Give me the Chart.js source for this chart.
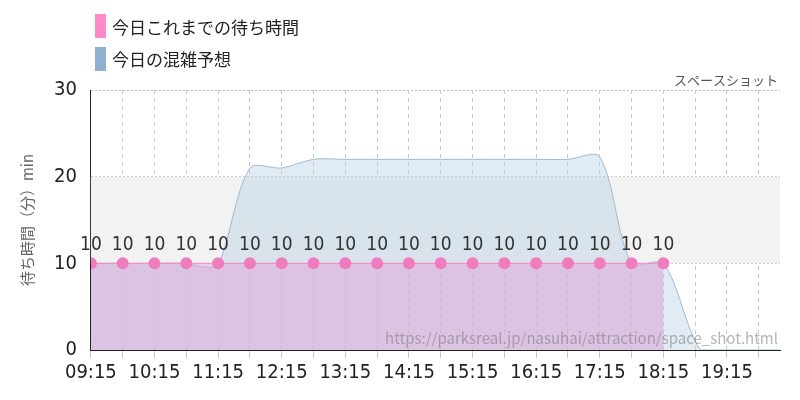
<!DOCTYPE html>
<html><head><meta charset="utf-8">
<script src="https://cdn.jsdelivr.net/npm/chart.js@4"></script>
<style>body{margin:0;background:#fff}#w{width:800px;height:400px;position:relative}</style>
</head><body><div id="w"><canvas id="c"></canvas></div>
<script>
// 9:15 起点の分
var waitTimes = ['09:15','09:45','10:15','10:45','11:15','11:45','12:15','12:45','13:15','13:45','14:15','14:45','15:15','15:45','16:15','16:45','17:15','17:45','18:15'];
var waitValues = [10,10,10,10,10,10,10,10,10,10,10,10,10,10,10,10,10,10,10];
var forecastTimes = ['09:15','09:45','10:15','10:45','11:00','11:15','11:45','12:15','12:45','13:15','13:45','14:15','14:45','15:15','15:45','16:15','16:45','17:15','17:45','18:15','18:50','19:15','19:45','20:05'];
var forecastValues = [10,10,10,10,9.6,9.8,21,21,22,22,22,22,22,22,22,22,22,22.3,10,10,0,0,0,0];
var tickLabels = ['09:15','10:15','11:15','12:15','13:15','14:15','15:15','16:15','17:15','18:15','19:15'];

function toMin(t){ var p=t.split(':'); return (+p[0])*60+(+p[1]); }
function pts(ts, vs){ return ts.map(function(t,i){ return {x:toMin(t), y:vs[i]}; }); }
var font = '"DejaVu Sans Condensed","Liberation Sans Narrow",sans-serif';

var extras = {
  id:'extras',
  beforeDatasetsDraw:function(ch){
    var c=ch.ctx, a=ch.chartArea, y=ch.scales.y;
    c.save(); c.fillStyle='#f2f2f2';
    c.fillRect(a.left, y.getPixelForValue(20), a.right-a.left, y.getPixelForValue(10)-y.getPixelForValue(20));
    c.restore();
  },
  afterDatasetsDraw:function(ch){
    var c=ch.ctx, a=ch.chartArea;
    c.save();
    var m=ch.getDatasetMeta(1);
    c.font='19px ' + font; c.fillStyle='#333'; c.textAlign='center';
    m.data.forEach(function(p,i){ c.fillText(String(waitValues[i]), p.x, p.y-13); });
    c.font='15px "Noto Sans CJK JP",sans-serif'; c.fillStyle='rgba(120,120,120,0.55)'; c.textAlign='right';
    c.fillText('https://parksreal.jp/nasuhai/attraction/space_shot.html', a.right-2, a.bottom-6);
    c.font='13px "Noto Sans CJK JP",sans-serif'; c.fillStyle='#555';
    c.fillText('スペースショット', a.right-2, a.top-5);
    // legend
    c.textAlign='left'; c.font='17px "Noto Sans CJK JP",sans-serif';
    c.fillStyle='#ff88c8'; c.fillRect(95,14,11,24); c.fillStyle='#222'; c.fillText('今日これまでの待ち時間',112,34);
    c.fillStyle='#8fb0d0'; c.fillRect(95,47,11,24); c.fillStyle='#222'; c.fillText('今日の混雑予想',112,66);
    c.restore();
  }
};

new Chart(document.getElementById('c'), {
  type:'line',
  data:{ datasets:[
    { label:'今日の混雑予想', data:pts(forecastTimes, forecastValues), borderColor:'#9dbad6', borderWidth:1,
      backgroundColor:'rgba(180,205,225,0.4)', fill:'origin', pointRadius:0, tension:0.3, order:1 },
    { label:'今日これまでの待ち時間', data:pts(waitTimes, waitValues), borderColor:'#f58ac6', borderWidth:1,
      backgroundColor:'rgba(220,170,215,0.6)', fill:'origin', pointRadius:6, pointBackgroundColor:'#f07cc0',
      pointBorderWidth:0, order:0 }
  ]},
  options:{
    responsive:true, maintainAspectRatio:false, animation:false,
    layout:{ padding:{ top:90, right:20, left:14, bottom:12 } },
    plugins:{ legend:{ display:false }, tooltip:{ enabled:false } },
    scales:{
      x:{ type:'linear', min:toMin('09:15'), max:toMin('20:05'),
        afterBuildTicks:function(s){ var t=[]; for(var v=toMin('09:15'); v<=toMin('20:05'); v+=30) t.push({value:v}); s.ticks=t; },
        ticks:{ autoSkip:false, maxRotation:0, color:'#222', font:{ size:20, family:font },
          callback:function(v){ var h=Math.floor(v/60), mm=v%60; var s=(h<10?'0':'')+h+':'+(mm<10?'0':'')+mm; return tickLabels.indexOf(s)>=0 ? s : ''; } },
        grid:{ color:'#c8c8c8', tickLength:8, drawTicks:true },
        border:{ dash:[4,4], display:true, color:'#222' } },
      y:{ min:0, max:30, afterBuildTicks:function(s){ s.ticks=[{value:0},{value:10},{value:20},{value:30}]; },
        ticks:{ color:'#222', font:{ size:20, family:font }, padding:14 },
        grid:{ color:'#bbb', drawTicks:false }, border:{ dash:[2,2], color:'#222' },
        title:{ display:true, text:'待ち時間（分）min', color:'#666', font:{ size:15, family:'"Noto Sans CJK JP",sans-serif' } } }
    }
  },
  plugins:[extras]
});
</script></body></html>
